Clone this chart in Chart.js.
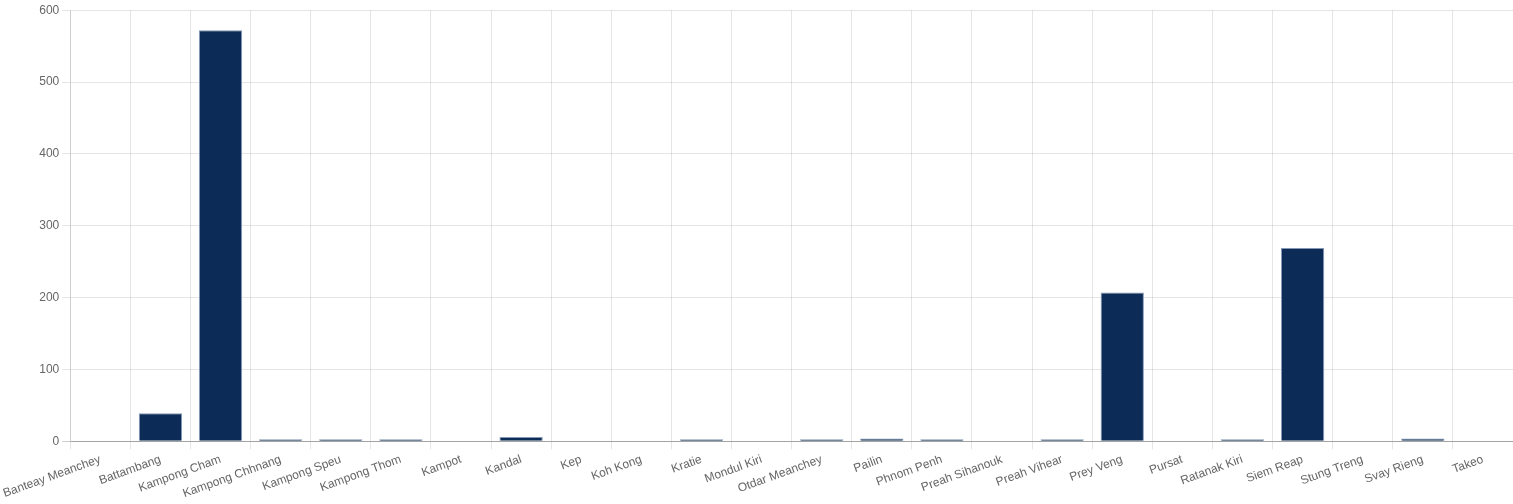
<!DOCTYPE html>
<html>
<head>
<meta charset="utf-8">
<script src="https://cdn.jsdelivr.net/npm/chart.js@4/dist/chart.umd.min.js"></script>
<style>
  html, body { margin: 0; padding: 0; background: #fff; }
  #wrap { width: 1513px; height: 504px; position: relative; }
</style>
</head>
<body>
<div id="wrap"><canvas id="chart"></canvas></div>
<script>
const provinces = [
  'Banteay Meanchey', 'Battambang', 'Kampong Cham', 'Kampong Chhnang', 'Kampong Speu',
  'Kampong Thom', 'Kampot', 'Kandal', 'Kep', 'Koh Kong', 'Kratie', 'Mondul Kiri',
  'Otdar Meanchey', 'Pailin', 'Phnom Penh', 'Preah Sihanouk', 'Preah Vihear',
  'Prey Veng', 'Pursat', 'Ratanak Kiri', 'Siem Reap', 'Stung Treng', 'Svay Rieng', 'Takeo'
];
const counts = [0, 39, 572, 2, 2, 1, 0, 6, 0, 0, 1, 0, 1, 4, 2, 0, 2, 207, 0, 1, 269, 0, 4, 0];

Chart.defaults.font.family = "'Helvetica Neue', Helvetica, Arial, sans-serif";
Chart.defaults.font.size = 12;
Chart.defaults.color = '#666';

// zero provinces get no bar at all, tiny ones still show a sliver
const barData = counts.map(v => v === 0 ? null : v);

const canvas = document.getElementById('chart');
const chart = new Chart(canvas, {
  type: 'bar',
  data: {
    labels: provinces,
    datasets: [{
      label: 'Cases',
      data: barData,
      backgroundColor: '#0c2c57',
      borderColor: '#8497b5',
      borderWidth: 1,
      minBarLength: 2
    }]
  },
  options: {
    responsive: true,
    maintainAspectRatio: false,
    animation: false,
    plugins: {
      legend: { display: false },
      tooltip: { enabled: false }
    },
    scales: {
      x: {
        grid: { color: 'rgba(0,0,0,0.1)' },
        border: { color: 'rgba(0,0,0,0.2)' },
        ticks: { autoSkip: false }
      },
      y: {
        min: 0,
        max: 600,
        ticks: { stepSize: 100 },
        grid: { color: (ctx) => ctx.tick && ctx.tick.value === 0 ? 'rgba(0,0,0,0.2)' : 'rgba(0,0,0,0.1)' },
        border: { color: 'rgba(0,0,0,0.1)' }
      }
    }
  }
});
</script>
</body>
</html>
